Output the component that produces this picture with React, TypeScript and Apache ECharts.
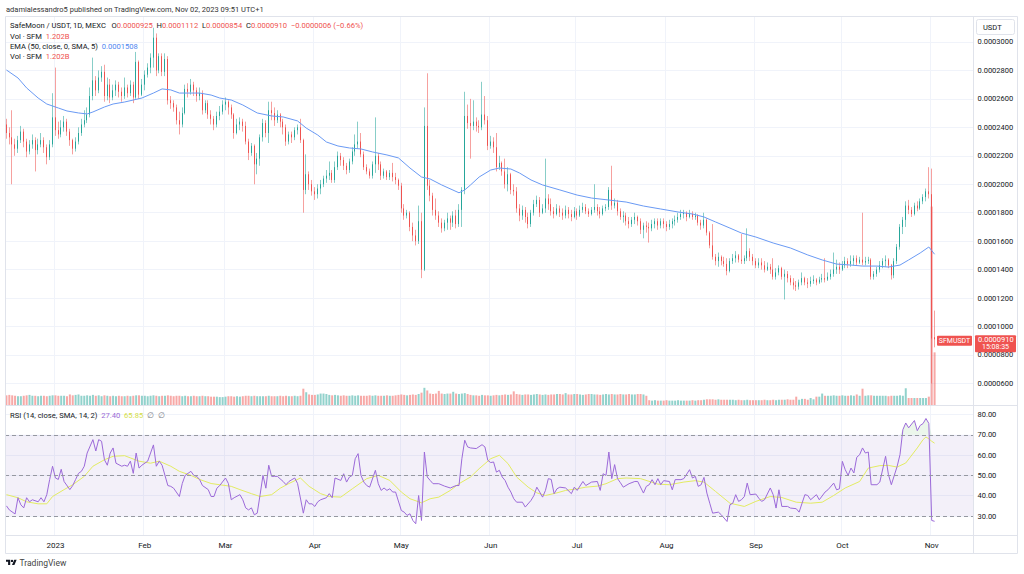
import React, { useEffect, useRef } from "react";
import * as echarts from "echarts";

// ---------- DATA (prices in µUSDT = 1e-6 USDT) ----------
const startDate = "2022-12-15";
const categoryCount = 336;
const firstOpen = 242;
const openOverrides: Record<number, number> = { 322: 92.5 };

const closes = [
  236,233,228,225,231,237,230,223,228,231,
  224,228,231,226,219,228,247,238,235,240,
  244,237,231,225,230,236,242,245,249,262,
  273,266,275,279,262,270,261,266,270,265,
  262,268,264,270,261,286,263,270,277,282,
  289,303,280,290,279,288,259,257,254,245,
  242,250,267,265,270,266,262,264,252,257,
  249,246,242,248,251,256,258,254,249,236,
  242,244,241,230,222,227,214,218,233,243,
  236,252,250,245,249,244,240,230,235,233,
  238,240,231,196,207,200,195,193,197,200,
  204,206,208,203,212,220,217,213,210,216,
  223,228,230,221,212,209,206,214,220,214,
  206,209,205,208,205,203,199,183,178,180,
  170,164,160,174,140,241,199,192,182,178,
  173,169,173,176,173,178,172,182,196,248,
  243,241,244,241,240,249,245,227,230,226,
  212,215,209,200,207,196,195,183,178,182,
  177,172,180,186,189,180,183,190,186,181,
  179,183,180,178,182,179,177,181,178,182,
  184,181,179,182,184,181,179,183,184,196,
  185,187,181,177,178,174,172,175,177,174,
  168,171,170,169,172,174,171,174,172,170,
  172,174,175,177,179,180,177,179,177,178,
  173,171,175,166,157,149,146,149,146,144,
  139,146,148,150,147,146,148,153,149,146,
  143,145,143,140,142,140,135,138,141,135,
  137,134,131,129,128,131,134,131,130,132,
  133,131,133,134,133,135,137,140,142,140,
  143,146,144,146,148,145,147,145,146,147,
  135,137,140,143,146,147,143,136,146,156,
  170,175,185,182,179,185,183,188,191,195,
  193,91.6,91.0,
];

const highs = [
  246,240,252,232,234,241,239,232,231,235,
  233,232,236,233,228,231,264,282,244,245,
  248,246,239,232,233,240,246,252,254,268,
  289,276,280,283,284,275,274,270,273,272,
  268,275,270,273,272,293,287,274,280,285,
  292,310,306,292,292,292,290,262,259,256,
  251,254,270,271,274,272,268,268,266,259,
  259,252,248,251,255,259,261,259,256,250,
  246,247,246,244,232,229,228,222,235,246,
  245,258,258,254,252,250,246,242,237,237,
  240,242,246,232,221,209,203,198,200,203,
  206,210,216,210,216,223,222,219,215,218,
  226,235,244,236,223,214,211,216,247,222,
  216,211,210,210,215,208,204,201,186,182,
  181,173,168,185,180,254,278,203,194,190,
  181,176,175,180,178,181,182,186,198,265,
  256,260,259,247,245,272,262,248,234,233,
  236,220,216,218,212,208,200,198,186,185,
  184,180,182,189,192,191,186,218,193,190,
  184,186,185,183,185,184,182,184,183,185,
  187,186,183,184,200,186,184,185,186,198,
  213,190,189,183,181,180,177,177,180,178,
  176,173,174,173,175,176,176,176,176,174,
  175,176,178,180,182,182,181,182,181,180,
  179,175,180,176,167,172,151,152,150,149,
  148,148,151,153,151,165,150,169,155,151,
  148,148,148,146,145,144,148,141,143,142,
  140,139,136,134,132,133,138,135,134,135,
  136,134,135,137,148,138,140,152,147,145,
  146,149,148,150,150,150,149,180,149,149,
  148,139,142,146,148,150,148,144,148,158,
  172,177,188,189,184,187,188,190,193,197,
  212,211,111.2,
];

const lows = [
  232,228,200,220,222,229,226,219,221,225,
  209,221,226,222,214,217,226,234,232,233,
  237,234,227,221,223,228,234,240,243,247,
  259,262,264,272,258,259,257,259,262,261,
  258,260,261,262,257,260,260,262,266,275,
  278,282,276,278,276,276,256,253,251,242,
  235,240,249,261,263,262,258,259,249,250,
  246,242,238,240,245,249,252,249,246,232,
  235,238,237,228,217,220,200,207,213,230,
  233,229,245,241,243,240,235,227,228,229,
  231,235,229,180,193,196,192,189,190,193,
  198,201,203,201,201,210,213,210,207,208,
  214,220,225,219,210,207,204,204,208,210,
  203,204,203,203,202,200,196,180,175,176,
  167,160,157,158,134,139,196,188,178,175,
  170,166,167,168,168,170,169,170,170,193,
  239,218,238,237,236,238,242,224,225,222,
  209,210,206,197,195,193,192,180,174,175,
  173,169,170,178,184,177,179,180,182,178,
  176,178,177,175,176,176,174,176,175,177,
  180,179,177,178,180,178,176,178,181,182,
  182,183,178,175,173,171,169,170,172,171,
  165,162,166,159,167,169,168,169,169,167,
  168,169,171,173,175,176,174,176,175,175,
  171,168,169,164,155,147,143,142,143,142,
  136,138,144,145,145,144,144,146,146,143,
  141,141,140,138,139,137,133,133,136,133,
  119,131,129,126,125,126,129,129,127,128,
  130,129,130,131,131,132,133,135,137,137,
  139,141,141,142,143,143,144,143,143,144,
  133,133,135,138,141,142,141,133,134,144,
  154,165,170,179,177,178,181,182,186,188,
  190,60,85.4,
];

// volume in billions SFM
const volumes = [
  .23,.24,.23,.22,.21,.21,.22,.23,.24,.22,
  .22,.21,.22,.22,.21,.22,.23,.23,.22,.22,
  .22,.21,.25,.23,.24,.25,.22,.22,.23,.22,
  .24,.22,.23,.21,.23,.22,.21,.22,.21,.22,
  .21,.21,.22,.21,.22,.23,.23,.22,.22,.21,
  .22,.23,.22,.21,.22,.22,.23,.22,.21,.22,
  .22,.21,.22,.21,.21,.22,.21,.21,.22,.21,
  .21,.20,.20,.20,.19,.19,.20,.21,.21,.20,
  .21,.20,.21,.22,.22,.21,.22,.21,.21,.21,
  .21,.22,.21,.21,.21,.22,.21,.22,.21,.21,
  .22,.21,.22,.38,.30,.25,.24,.24,.25,.27,
  .27,.26,.24,.23,.24,.23,.22,.23,.22,.22,
  .23,.22,.23,.22,.22,.22,.23,.22,.23,.22,
  .22,.22,.23,.22,.22,.23,.24,.25,.24,.23,
  .24,.25,.24,.26,.29,.40,.34,.27,.26,.27,
  .33,.27,.26,.27,.27,.31,.27,.26,.27,.28,
  .26,.24,.23,.23,.22,.24,.23,.23,.22,.23,
  .24,.23,.24,.25,.24,.25,.32,.26,.25,.24,
  .25,.25,.24,.25,.26,.25,.24,.25,.24,.25,
  .25,.26,.26,.25,.28,.25,.25,.26,.26,.25,
  .24,.25,.26,.26,.25,.25,.24,.25,.26,.25,
  .26,.25,.25,.26,.25,.25,.26,.25,.25,.26,
  .26,.25,.22,.12,.11,.12,.11,.11,.11,.12,
  .11,.11,.11,.12,.11,.11,.11,.11,.12,.11,
  .12,.12,.13,.14,.14,.14,.13,.14,.13,.13,
  .13,.13,.13,.12,.13,.12,.12,.13,.12,.12,
  .12,.12,.12,.13,.12,.12,.13,.12,.13,.13,
  .13,.14,.13,.13,.20,.13,.15,.15,.13,.17,
  .14,.20,.20,.27,.22,.22,.22,.23,.22,.22,
  .23,.22,.22,.23,.22,.25,.22,.38,.22,.23,
  .23,.22,.22,.22,.22,.22,.21,.22,.22,.22,
  .23,.22,.39,.17,.17,.17,.17,.17,.17,.17,
  .20,4.5,1.202,
];

// EMA(50): [day index, µUSDT]
const emaPoints: [number, number][] = [
  [0,280.3],[4,274.7],[7,267.7],[11,260.6],[14,256.4],[18,253.6],[21,251.5],[25,250.1],[28,249.4],[30,250.8],
  [34,254.3],[37,256.4],[41,257.8],[44,259.2],[47,260.6],[51,264.1],[54,267],[57,266.3],[60,264.1],[64,264.1],
  [67,264.1],[71,262.7],[74,260.6],[78,259.2],[82,255.7],[87,250.1],[92,248],[96,247.3],[101,244.5],[104,239.5],
  [108,234.6],[111,229.7],[115,226.9],[119,225.5],[123,224.8],[127,222.7],[132,220.6],[136,218.5],[140,211.4],[144,205.1],
  [147,203.7],[151,199.5],[157,194],[159,196],[161,199.5],[164,205.1],[168,210],[171,211.4],[175,210.7],[178,207.9],
  [182,203],[186,199.5],[192,196],[198,192.4],[203,190.3],[209,188.9],[215,187.5],[221,184.7],[227,182.6],[233,180.5],
  [238,179.1],[242,177],[246,173.5],[251,169.2],[255,165.7],[260,162.9],[266,158.7],[272,155.2],[278,150.3],[283,146.8],
  [288,143.9],[293,143.2],[297,142.5],[302,142.5],[306,141.8],[310,143.2],[313,146.8],[317,151.7],[320,155.9],[321,153.4],
  [322,150.8],
];

// RSI(14): [day index, value]
const rsiPoints: [number, number][] = [
  [0,35],[1,33],[3,31],[4,39],[5,35.5],[6,34],[7,39],[8,37],[9,38],[11,37],[12,39],[13,37],[14,40.5],[15,48],[16,54.5],
  [17,48.7],[18,48],[19,53],[20,47],[22,43],[23,45],[24,48],[25,51],[26,52],[27,54.5],[28,61],[30,67.6],[31,62],[32,67.6],
  [33,66.8],[34,57.7],[35,55],[36,61],[37,63.5],[38,56],[40,54.5],[41,55],[42,54.5],[43,57],[44,51],[45,61],[46,53.6],
  [47,55],[49,57],[51,65],[52,54.5],[53,57],[54,55],[56,45],[57,44.6],[58,43.7],[60,39.6],[61,46],[62,50],[64,52],[65,50],
  [66,49.5],[67,48],[68,45],[70,43],[71,39.6],[72,39.6],[73,43.7],[74,45],[76,48.7],[77,46],[78,38],[79,39],[81,40.5],
  [82,38],[83,34],[84,33],[85,34],[86,30.6],[87,31.4],[88,40.5],[89,50],[90,43.7],[91,55],[92,49.5],[93,49.5],[94,49.5],
  [96,47],[97,45.4],[98,47],[100,48.7],[101,46],[103,31.4],[104,38],[105,36],[106,36],[107,34.7],[108,37],[109,38],
  [111,39],[112,41],[113,39],[114,48.7],[116,47.5],[117,50.8],[118,46.7],[119,49.2],[120,50],[121,58.2],[122,60.7],
  [123,50],[124,46.7],[125,45],[126,44.2],[128,52.5],[129,45.9],[130,42.6],[131,43.8],[132,42.6],[133,43.4],[134,41.8],
  [135,41.8],[137,32.7],[138,31.9],[139,30.3],[140,31.1],[141,27.8],[142,26.2],[143,40.1],[144,27.8],[145,61.5],[146,49.2],
  [147,47.5],[148,45.9],[150,45.9],[152,44.7],[154,43.8],[156,45],[157,45],[158,58.2],[159,67.3],[160,64],[161,63.5],
  [163,63.2],[165,65.1],[166,64],[167,57.4],[168,56.3],[169,56.6],[170,51.6],[171,52.5],[172,49.2],[173,47.5],[174,44.2],
  [175,41.8],[176,38.5],[177,36.8],[179,36.8],[180,34.4],[182,37.7],[183,40.1],[184,44.2],[185,41.8],[186,39.3],[187,42.6],
  [188,48.4],[189,48],[190,41],[191,43.4],[192,44.2],[194,43.8],[196,41],[197,44.2],[198,42.6],[200,47],[201,45],[203,46.7],
  [205,47],[206,42.6],[207,50.8],[208,50],[209,61.5],[210,48.4],[211,55.3],[212,48.4],[213,46.4],[214,44.2],[216,45.9],
  [218,47],[219,47],[221,41.3],[222,44.6],[223,45.4],[224,47.9],[225,45.4],[226,48.4],[227,45.4],[228,47.4],[230,47],
  [231,42.9],[232,47.9],[234,47.9],[235,48.4],[237,52.8],[238,48.7],[239,49.5],[240,44.6],[241,45.4],[242,49],[243,41.3],
  [244,36.3],[245,31.4],[247,31.9],[248,30.6],[250,27.3],[251,35.5],[252,36.3],[253,40.5],[254,37.2],[255,38],[256,39.6],
  [257,46.2],[258,40.5],[260,40.8],[261,38.8],[262,37.2],[263,38],[265,43.8],[266,40.5],[267,33.9],[268,42.9],[269,34.7],
  [271,34.7],[272,33.9],[274,33.6],[275,31.9],[277,40.5],[278,40.1],[279,38],[281,40.5],[282,38],[284,41.8],[285,42.9],
  [287,46.2],[288,42.9],[289,43.4],[290,56.9],[291,52.8],[292,50],[293,53.6],[294,51.2],[295,58.9],[296,60.2],[297,63.5],
  [298,61],[299,61.5],[300,45.4],[302,45.4],[303,46.7],[305,59.4],[306,50.3],[307,45.4],[309,54.4],[310,60.2],[311,72.5],
  [312,75.8],[313,73.4],[315,77],[316,72],[317,74.6],[318,75.5],[319,78],[320,75.6],[321,27.8],[322,27.4],
];

// RSI-based SMA(14)
const rsiMaPoints: [number, number][] = [
  [0,40.5],[4,39],[7,37],[11,36],[14,36],[16,39.6],[20,43],[23,45.4],[27,49.5],[30,54.5],[34,57.7],[37,59.4],[41,59.7],
  [43,58.6],[46,57],[50,56],[53,57],[57,54.5],[60,52],[64,50],[67,48],[71,46],[74,45.4],[78,44.6],[81,43],[85,41],
  [88,39.6],[92,40.5],[95,43.7],[98,46],[102,48.7],[105,44.6],[109,41],[112,39.6],[116,39.3],[120,43.4],[125,48.4],
  [129,50],[133,47.5],[137,41.8],[140,38.5],[144,36.5],[147,38.5],[150,39.3],[154,42.6],[157,45.9],[161,49.2],[164,53.3],
  [168,58.2],[171,59.9],[174,55.8],[177,49.2],[181,44.2],[184,41.4],[187,40.1],[191,41.4],[194,42.6],[198,43.4],[201,44.2],
  [205,44.7],[208,45.9],[212,48.4],[215,48.7],[220,48.4],[226,45.7],[230,45.4],[235,46.7],[239,47.4],[242,46.7],[246,42.1],
  [251,36.3],[256,34.7],[260,37.2],[265,39.6],[269,39.1],[274,36.8],[279,36.3],[283,36.8],[287,40.1],[291,43.8],[296,47],
  [299,53.6],[303,54.8],[306,54.9],[309,54.1],[312,56.1],[316,63.5],[318,67.6],[319,68.9],[320,68],[321,66.8],[322,65.85],
];

const priceTicks = [60, 80, 100, 120, 140, 160, 180, 200, 220, 240, 260, 280, 300];
const rsiTicks = [30, 40, 50, 60, 70, 80];
const monthNames = ["Jan","Feb","Mar","Apr","May","Jun","Jul","Aug","Sep","Oct","Nov","Dec"];

// ---------- helpers ----------
const U = 1e-6;
const FONT = "Roboto, 'Liberation Sans', Arial, sans-serif";
const UP = "#26a69a";
const DOWN = "#ef5350";
const UP_W = "rgba(38,166,154,0.55)";
const DOWN_W = "rgba(239,83,80,0.55)";
const UP_V = "rgba(38,166,154,0.5)";
const DOWN_V = "rgba(239,83,80,0.5)";
const TXT = "#131722";
const GRIDC = "#f0f3fa";

const pad = (n: number) => (n < 10 ? "0" + n : "" + n);
const start = new Date(startDate + "T00:00:00Z").getTime();
const categories = Array.from({ length: categoryCount }, (_, i) => {
  const d = new Date(start + i * 86400000);
  return `${d.getUTCFullYear()}-${pad(d.getUTCMonth() + 1)}-${pad(d.getUTCDate())}`;
});
const isMonthStart = (i: number) => categories[i] && categories[i].endsWith("-01");
const monthLabel = (v: string) => {
  const m = parseInt(v.slice(5, 7), 10);
  return m === 1 ? v.slice(0, 4) : monthNames[m - 1];
};

const opens = closes.map((c, i) => (i === 0 ? firstOpen : openOverrides[i] ?? closes[i - 1]));
const ohlc = closes.map((c, i) => [opens[i] * U, c * U, lows[i] * U, highs[i] * U]);
const bodies = closes.map((c, i) => [opens[i] * U, c * U, Math.min(opens[i], c) * U, Math.max(opens[i], c) * U]);
const fmtP = (v: number) => (v * U).toFixed(7);

const last = closes.length - 1;
const change = closes[last] - closes[last - 1];
const pct = (change / closes[last - 1]) * 100;
const sign = change < 0 ? "−" : "+";
const changeStr = `${sign}${fmtP(Math.abs(change))} (${sign}${Math.abs(pct).toFixed(2)}%)`;
const volStr = `${volumes[last].toFixed(3)}B`;
const emaStr = fmtP(emaPoints[emaPoints.length - 1][1]);
const rsiStr = rsiPoints[rsiPoints.length - 1][1].toFixed(2);
const rsiMaStr = rsiMaPoints[rsiMaPoints.length - 1][1].toFixed(2);

const TV_LOGO = "M14 22H7V11H0V4h14v18zM28 22h-8l7.5-18h8L28 22zM16 8a4 4 0 1 0 8 0a4 4 0 1 0 -8 0z";
let logoRegistered = false;

export default function App() {
  const ref = useRef<HTMLDivElement>(null);
  useEffect(() => {
    if (!ref.current) return;
    if (!logoRegistered) {
      echarts.graphic.registerShape("tvlogo", echarts.graphic.extendPath(TV_LOGO, {}));
      logoRegistered = true;
    }
    const chart = echarts.init(ref.current, null, { renderer: "svg" });
    const rich = (fill: string) => ({ fill, fontSize: 7.6, fontFamily: FONT });
    const legendRow = (id: string, y: number, text: string, r: Record<string, any>) => ({
      id, type: "text", x: 10, y, z: 100,
      style: { text, rich: r, fontSize: 7.6, fontFamily: FONT, fill: TXT },
    });

    const graphics: any[] = [
      { id: "box", type: "rect", z: 90, shape: { x: 5.5, y: 16.5, width: 1012, height: 537 }, style: { fill: "none", stroke: "#e0e3eb", lineWidth: 1 } },
      { id: "axsep", type: "line", z: 90, shape: { x1: 973.5, y1: 16.5, x2: 973.5, y2: 553.5 }, style: { stroke: "#e0e3eb", lineWidth: 1 } },
      { id: "panesep", type: "line", z: 90, shape: { x1: 5.5, y1: 405.5, x2: 1017.5, y2: 405.5 }, style: { stroke: "#e0e3eb", lineWidth: 1 } },
      { id: "xsep", type: "line", z: 90, shape: { x1: 5.5, y1: 535.5, x2: 1017.5, y2: 535.5 }, style: { stroke: "#e0e3eb", lineWidth: 1 } },
      { id: "hdr", type: "text", x: 6, y: 5, z: 100, style: { text: "adamialessandro5 published on TradingView.com, Nov 02, 2023 09:51 UTC+1", fontSize: 7.5, fontFamily: FONT, fill: "#333" } },
      legendRow("l1", 21,
        `{t|SafeMoon / USDT, 1D, MEXC}   {t|O}{r|${fmtP(opens[last])}}  {t|H}{r|${fmtP(highs[last])}}  {t|L}{r|${fmtP(lows[last])}}  {t|C}{r|${fmtP(closes[last])}}  {r|${changeStr}}`,
        { t: rich(TXT), r: rich(DOWN) }),
      legendRow("l2", 32.5, `{t|Vol · SFM}  {r|${volStr}}`, { t: rich(TXT), r: rich(DOWN) }),
      legendRow("l3", 42.5, `{t|EMA (50, close, 0, SMA, 5)}  {b|${emaStr}}`, { t: rich(TXT), b: rich("#4f86f0") }),
      legendRow("l4", 52.5, `{t|Vol · SFM}  {r|${volStr}}`, { t: rich(TXT), r: rich(DOWN) }),
      legendRow("l5", 411, `{t|RSI (14, close, SMA, 14, 2)}  {p|${rsiStr}}  {y|${rsiMaStr}}  {g|∅}  {g|∅}`,
        { t: rich(TXT), p: rich("#9b6bd6"), y: rich("#d4de45"), g: rich("#787b86") }),
      { id: "usdtbox", type: "rect", z: 100, shape: { x: 976.5, y: 19.5, width: 38, height: 15, r: 2 }, style: { fill: "#fff", stroke: "#e0e3eb", lineWidth: 1 } },
      { id: "usdt", type: "text", x: 983, y: 23.5, z: 101, style: { text: "USDT", fontSize: 7.5, fontFamily: FONT, fill: TXT } },
      { id: "logo", type: "tvlogo", x: 6, y: 558.5, scaleX: 0.3, scaleY: 0.3, z: 100, style: { fill: "#131722" } },
      { id: "tvtxt", type: "text", x: 19.5, y: 558.5, z: 100, style: { text: "TradingView", fontSize: 8.5, fontFamily: FONT, fill: "#444" } },
    ];

    const option: any = {
      animation: false,
      backgroundColor: "#fff",
      textStyle: { fontFamily: FONT },
      grid: [
        { left: 5, top: 16.5, width: 968.5, height: 389, containLabel: false, outerBoundsMode: "none" },
        { left: 5, top: 405.5, width: 968.5, height: 130, containLabel: false, outerBoundsMode: "none" },
      ],
      xAxis: [0, 1].map((g) => ({
        type: "category",
        gridIndex: g,
        data: categories,
        boundaryGap: true,
        axisLine: { show: false },
        axisTick: { show: false },
        axisLabel: {
          show: g === 1,
          interval: (i: number) => !!isMonthStart(i),
          formatter: (v: string) => monthLabel(v),
          color: TXT,
          fontSize: 8,
          margin: 6,
          fontFamily: FONT,
        },
        splitLine: { show: true, interval: (i: number) => !!isMonthStart(i), lineStyle: { color: GRIDC, width: 1 } },
      })),
      yAxis: [
        {
          type: "value", gridIndex: 0, position: "right", min: 44.5 * U, max: 317.9 * U,
          axisLine: { show: false },
          axisTick: { show: false, customValues: priceTicks.map((v) => v * U) },
          axisLabel: { customValues: priceTicks.map((v) => v * U), formatter: (v: number) => v.toFixed(7), color: TXT, fontSize: 7.5, margin: 4, fontFamily: FONT },
          splitLine: { show: true, lineStyle: { color: GRIDC, width: 1 } },
        },
        { type: "value", gridIndex: 0, min: 0, max: 8.8, show: false, splitLine: { show: false } },
        {
          type: "value", gridIndex: 1, position: "right", min: 20.4, max: 84.4,
          axisLine: { show: false },
          axisTick: { show: false, customValues: rsiTicks },
          axisLabel: { customValues: rsiTicks, formatter: (v: number) => v.toFixed(2), color: TXT, fontSize: 7.5, margin: 4, fontFamily: FONT },
          splitLine: { show: true, lineStyle: { color: GRIDC, width: 1 } },
        },
      ],
      series: [
        {
          type: "bar", name: "vol", xAxisIndex: 0, yAxisIndex: 1, barWidth: 2, z: 1, silent: true,
          data: volumes.map((v, i) => ({ value: v, itemStyle: { color: closes[i] >= opens[i] ? UP_V : DOWN_V } })),
        },
        {
          type: "candlestick", name: "wick", xAxisIndex: 0, yAxisIndex: 0, barWidth: 1, z: 2, silent: true,
          itemStyle: { color: UP_W, color0: DOWN_W, borderColor: UP_W, borderColor0: DOWN_W, borderWidth: 1 },
          data: ohlc,
        },
        {
          type: "candlestick", name: "body", xAxisIndex: 0, yAxisIndex: 0, barWidth: 1.3, z: 3, silent: true,
          itemStyle: { color: UP, color0: DOWN, borderColor: UP, borderColor0: DOWN, borderWidth: 1 },
          data: bodies,
          markLine: {
            silent: true, symbol: ["none", "none"], label: { show: false },
            lineStyle: { type: [1, 2], color: DOWN, width: 1 },
            data: [{ yAxis: closes[last] * U }],
          },
        },
        {
          type: "line", name: "ema", xAxisIndex: 0, yAxisIndex: 0, z: 4, silent: true,
          showSymbol: false, connectNulls: true, lineStyle: { color: "#6a9af4", width: 1 },
          data: emaPoints.map(([i, v]) => [i, v * U]),
        },
        {
          type: "line", name: "rsiFill", xAxisIndex: 1, yAxisIndex: 2, z: 2, silent: true,
          showSymbol: false, lineStyle: { opacity: 0 },
          areaStyle: { origin: 70, color: "rgba(76,175,80,0.16)" },
          data: rsiPoints.filter(([i]) => i >= 309).map(([i, v]) => [i, Math.max(v, 70)]),
        },
        {
          type: "line", name: "rsi", xAxisIndex: 1, yAxisIndex: 2, z: 4, silent: true,
          showSymbol: false, lineStyle: { color: "#9c6ad9", width: 1 },
          data: rsiPoints,
          markArea: { silent: true, itemStyle: { color: "rgba(126,87,194,0.09)" }, data: [[{ yAxis: 30 }, { yAxis: 70 }]] },
          markLine: {
            silent: true, symbol: ["none", "none"], label: { show: false },
            lineStyle: { type: [4, 3], color: "#9598a1", width: 1 },
            data: [{ yAxis: 70 }, { yAxis: 50 }, { yAxis: 30 }],
          },
        },
        {
          type: "line", name: "rsiMa", xAxisIndex: 1, yAxisIndex: 2, z: 3, silent: true,
          showSymbol: false, lineStyle: { color: "#e3ec62", width: 1 },
          data: rsiMaPoints,
        },
      ],
      graphic: graphics,
    };
    chart.setOption(option);

    const py = chart.convertToPixel({ yAxisIndex: 0 }, closes[last] * U) as number;
    chart.setOption({
      graphic: [
        ...graphics,
        { id: "symbox", type: "rect", z: 100, shape: { x: 937, y: py - 3.5, width: 35, height: 10, r: 1 }, style: { fill: DOWN } },
        { id: "symtxt", type: "text", x: 954.5, y: py - 2, z: 101, style: { text: "SFMUSDT", fontSize: 7, fontFamily: FONT, fill: "#fff", align: "center" } },
        { id: "pbox", type: "rect", z: 100, shape: { x: 975, y: py - 4, width: 41, height: 17, r: 1 }, style: { fill: DOWN } },
        { id: "ptxt", type: "text", x: 978, y: py - 3.5, z: 101, style: { text: fmtP(closes[last]), fontSize: 7.5, fontFamily: FONT, fill: "#fff" } },
        { id: "ttxt", type: "text", x: 982, y: py + 4.5, z: 101, style: { text: "15:08:35", fontSize: 7, fontFamily: FONT, fill: "#fff" } },
      ],
    });

    return () => chart.dispose();
  }, []);

  return (
    <div
      ref={ref}
      style={{ position: "fixed", left: 0, top: 0, width: 1024, height: 574, background: "#fff" }}
    />
  );
}
